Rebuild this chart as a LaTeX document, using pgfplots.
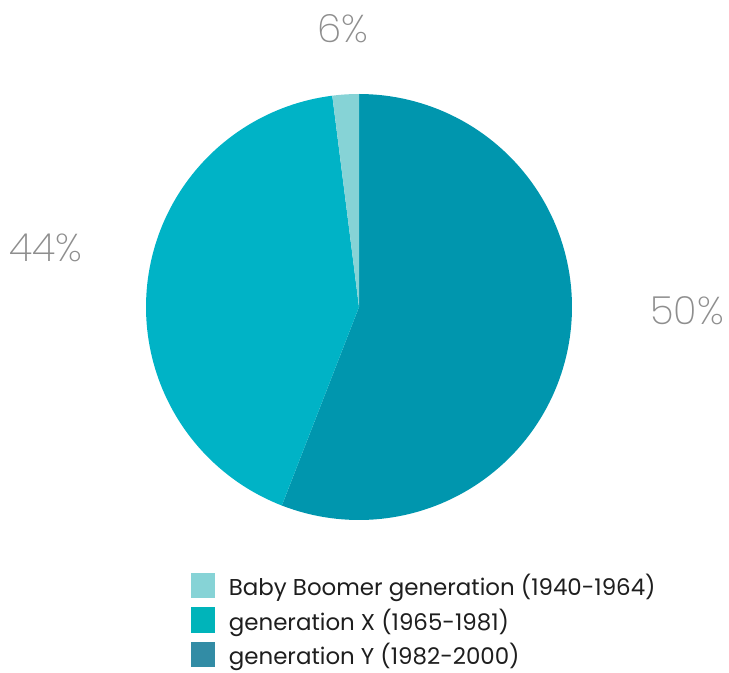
\documentclass[border=0pt]{standalone}
\usepackage{pgfplots}
\pgfplotsset{compat=1.18}
\usepackage{fontspec}
\setmainfont{Poppins}
\newfontfamily\thinfont{Poppins ExtraLight}
\definecolor{cBoom}{HTML}{86D3D6}
\definecolor{cX}{HTML}{00B3C6}
\definecolor{cY}{HTML}{0096AE}
\definecolor{lBoom}{HTML}{86D3D6}
\definecolor{lX}{HTML}{00B4BA}
\definecolor{lY}{HTML}{328CA5}
\definecolor{pctgray}{HTML}{8E8E8E}
\definecolor{legtext}{HTML}{1E1E1E}
\begin{document}
\begin{tikzpicture}
\path (0bp,0bp) rectangle (729bp,673bp);
% wedge shares (percent of circle) as drawn, clockwise from 12 o'clock:
% Generation Y 55.9, Generation X 42.1, Baby Boomer 2.0
\begin{axis}[
  at={(359bp,366bp)}, anchor=center,
  scale only axis, width=426bp, height=426bp,
  xmin=-1, xmax=1, ymin=-1, ymax=1,
  hide axis, clip=false,
  legend style={at={(axis cs:-0.79,-1.245)}, anchor=north west, draw=none, fill=none,
    font=\fontsize{23}{26}\selectfont, text=legtext, row sep=7.5bp,
    /tikz/every odd column/.append style={column sep=12bp},
    inner sep=0pt, cells={anchor=west}},
  legend image code/.code={\fill[#1] (0bp,-12.5bp) rectangle (24bp,13bp);},
]
% Generation Y: from 90 deg clockwise 55.9% = 201.24 deg
\addplot[fill=cY, draw=none, data cs=polar, domain=90:-111.24, samples=120, forget plot] (x,1) -- (axis cs:0,0) -- cycle;
% Generation X: 42.1% = 151.56 deg
\addplot[fill=cX, draw=none, data cs=polar, domain=-111.24:-262.8, samples=100, forget plot] (x,1) -- (axis cs:0,0) -- cycle;
% Baby Boomer: 2.0% = 7.2 deg
\addplot[fill=cBoom, draw=none, data cs=polar, domain=-262.8:-270, samples=10, forget plot] (x,1) -- (axis cs:0,0) -- cycle;
\addlegendimage{fill=lBoom, draw=none}
\addlegendentry{Baby Boomer generation (1940-1964)}
\addlegendimage{fill=lX, draw=none}
\addlegendentry{generation X (1965-1981)}
\addlegendimage{fill=lY, draw=none}
\addlegendentry{generation Y (1982-2000)}
\end{axis}
\node[text=pctgray, font=\thinfont\fontsize{39}{40}\selectfont] at (343bp,644bp) {6\%};
\node[text=pctgray, font=\thinfont\fontsize{39}{40}\selectfont] at (46bp,425bp) {44\%};
\node[text=pctgray, font=\thinfont\fontsize{39}{40}\selectfont] at (687bp,362bp) {50\%};
\end{tikzpicture}
\end{document}
